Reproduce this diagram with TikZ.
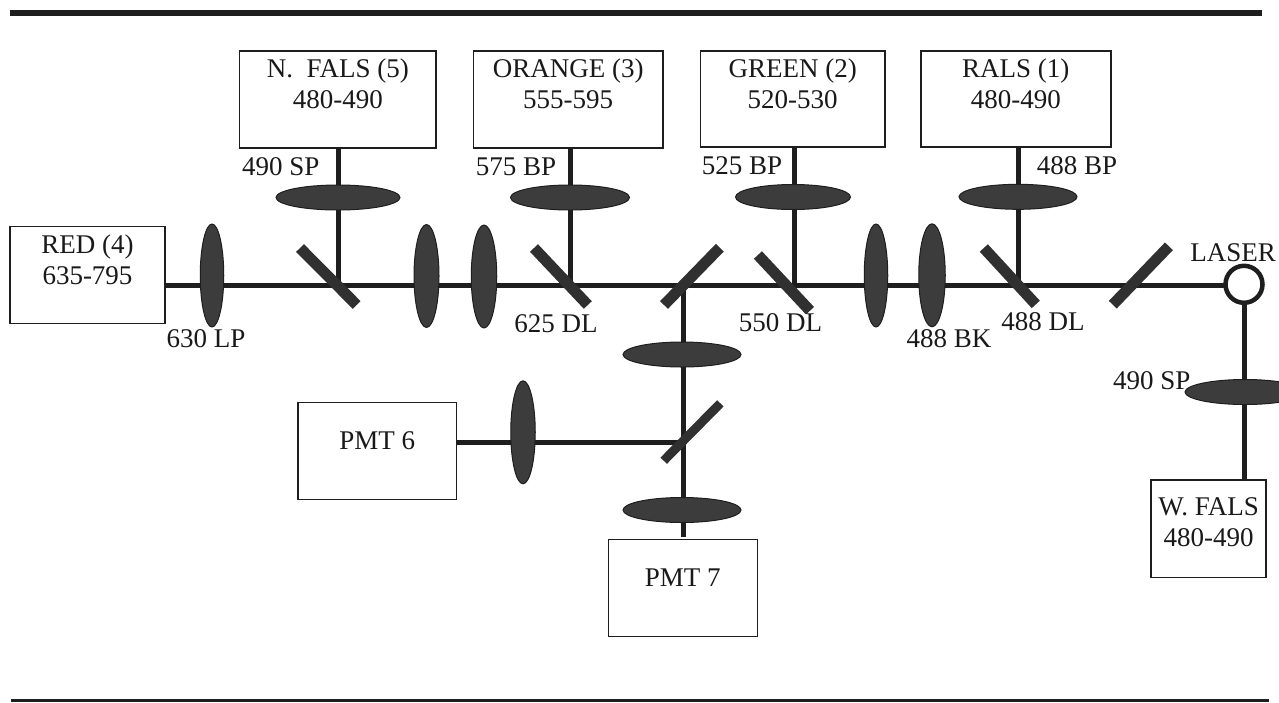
\documentclass[tikz,border=0pt]{standalone}
\usepackage{fontspec}
\setmainfont{Liberation Serif}
\usetikzlibrary{shapes.geometric}
\pgfdeclarelayer{bg}
\pgfsetlayers{bg,main}
\definecolor{ink}{HTML}{1E1E1E}
\definecolor{lensfill}{HTML}{3C3C3C}
\definecolor{mirrorink}{HTML}{303030}
\tikzset{
  x=1pt,y=-1pt,
  every node/.style={font=\fontsize{27}{31}\selectfont,text=black!90},
  boxn/.style={draw=ink,line width=1.5pt,rectangle,align=center,inner sep=0pt,outer sep=0pt,fill=white},
  beam/.style={draw=ink,line width=5pt},
  mirror/.style={draw=mirrorink,line width=11pt},
  mirrorthin/.style={draw=mirrorink,line width=9pt},
  hlens/.style={ellipse,draw=ink,line width=1pt,fill=lensfill,inner sep=0pt,minimum height=25pt},
  vlens/.style={ellipse,draw=ink,line width=1pt,fill=lensfill,inner sep=0pt,minimum height=103pt},
  lab/.style={anchor=base,inner sep=0pt},
  laserc/.style={circle,draw=ink,line width=4.5pt,fill=white,inner sep=0pt,minimum size=37pt,outer sep=2pt}
}
\begin{document}
\frenchspacing
\begin{tikzpicture}
\useasboundingbox (0,0) rectangle (1279,702);
% frame rules
\coordinate (topL) at (10,12.7);
\coordinate (topR) at (1262,12.7);
\coordinate (botL) at (10.5,700.5);
\coordinate (botR) at (1269,700.5);
\draw[ink,line width=6pt] (topL) -- (topR);
\draw[ink,line width=3pt] (botL) -- (botR);
% junctions
\coordinate (j1) at (338,285.7);
\coordinate (j2) at (570,285.7);
\coordinate (jc) at (683.3,285.7);
\coordinate (j3) at (794.3,285.7);
\coordinate (j4) at (1018.6,285.7);
\coordinate (j5) at (683.3,442.7);
\coordinate (jend) at (683.3,536.7);
% boxes
\node[boxn,minimum width=196.5pt,minimum height=96.7pt] (nfals) at (337.8,99.4) {N.~~FALS (5)\\480-490\\\mbox{}};
\node[boxn,minimum width=189.5pt,minimum height=97pt] (orange) at (568.2,99.5) {ORANGE (3)\\555-595\\\mbox{}};
\node[boxn,minimum width=184.2pt,minimum height=96pt] (green) at (792.7,99) {GREEN (2)\\520-530\\\mbox{}};
\node[boxn,minimum width=189.9pt,minimum height=96pt] (rals) at (1015.8,99) {RALS (1)\\480-490\\\mbox{}};
\node[boxn,minimum width=155pt,minimum height=97pt] (red) at (87.5,275.2) {RED (4)\\635-795\\\mbox{}};
\node[boxn,minimum width=158.7pt,minimum height=97pt] (pmtsix) at (377.3,450.8) {PMT 6\\[-10pt]\mbox{}};
\node[boxn,minimum width=149pt,minimum height=97.4pt] (pmtseven) at (682.8,588) {PMT 7\\[-10pt]\mbox{}};
\node[boxn,minimum width=115pt,minimum height=97.7pt] (wfals) at (1208.5,528.8) {W. FALS\\480-490\\[-17pt]\mbox{}};
\node[laserc] (laser) at (1244,284.3) {};
% lenses
\node[hlens,minimum width=124pt] (lnfals) at (338,197.5) {};
\node[hlens,minimum width=119pt] (lorange) at (570,197.5) {};
\node[hlens,minimum width=115pt] (lgreen) at (793,197) {};
\node[hlens,minimum width=118pt] (lrals) at (1018,196.8) {};
\node[hlens,minimum width=118pt] (lctop) at (682,354.5) {};
\node[hlens,minimum width=118pt] (lcbot) at (682,510) {};
\node[hlens,minimum width=120pt] (lw) at (1245,392) {};
\node[vlens,minimum width=23.5pt] (la) at (212,275.5) {};
\node[vlens,minimum width=25pt] (lb) at (426.5,276) {};
\node[vlens,minimum width=25.5pt] (lc) at (484,276.5) {};
\node[vlens,minimum width=23.5pt] (ld) at (876,275.5) {};
\node[vlens,minimum width=26.5pt] (le) at (932,275.3) {};
\node[vlens,minimum width=24.5pt] (lf) at (523,432.3) {};
% connectors and mirrors behind the lenses
\begin{pgfonlayer}{bg}
\draw[beam] (red.east |- j1) -- (laser.west |- j1);
\draw[beam] (j1 |- nfals.south) -- (j1);
\draw[beam] (j2 |- orange.south) -- (j2);
\draw[beam] (j3 |- green.south) -- (j3);
\draw[beam] (j4 |- rals.south) -- (j4);
\draw[beam] (jc) -- (jend);
\draw[beam] (pmtsix.east |- j5) -- (j5);
\draw[beam] (laser.south) -- (laser.south |- wfals.north);
\coordinate (m1a) at (300,248);
\coordinate (m1b) at (356.7,305);
\coordinate (m2a) at (534,248);
\coordinate (m2b) at (587.8,305);
\coordinate (m3a) at (719.8,247.7);
\coordinate (m3b) at (664,305);
\coordinate (m4a) at (757.9,255);
\coordinate (m4b) at (810,310.7);
\coordinate (m5a) at (983.8,248);
\coordinate (m5b) at (1035.8,304.4);
\coordinate (m6a) at (1168.9,246.3);
\coordinate (m6b) at (1112.8,304.7);
\coordinate (m7a) at (720.3,403.3);
\coordinate (m7b) at (663.7,460.7);
\draw[mirror] (m1a) -- (m1b);
\draw[mirror] (m2a) -- (m2b);
\draw[mirror] (m3a) -- (m3b);
\draw[mirror] (m4a) -- (m4b);
\draw[mirror] (m5a) -- (m5b);
\draw[mirror] (m6a) -- (m6b);
\draw[mirrorthin] (m7a) -- (m7b);
\end{pgfonlayer}
% labels
\node[lab] (t490sp) at (280.8,175) {490 SP};
\node[lab] (t575bp) at (516,175) {575 BP};
\node[lab] (t525bp) at (742,174) {525 BP};
\node[lab] (t488bp) at (1077,174) {488 BP};
\node[lab] (t630lp) at (206,347) {630 LP};
\node[lab] (t625dl) at (556,332.3) {625 DL};
\node[lab] (t550dl) at (780.4,331.7) {550 DL};
\node[lab] (t488dl) at (1043,330.7) {488 DL};
\node[lab] (t488bk) at (949,347) {488 BK};
\node[lab] (tlaser) at (1233,261.7) {LASER};
\node[lab] (t490spb) at (1151.7,389) {490 SP};
\end{tikzpicture}
\end{document}
